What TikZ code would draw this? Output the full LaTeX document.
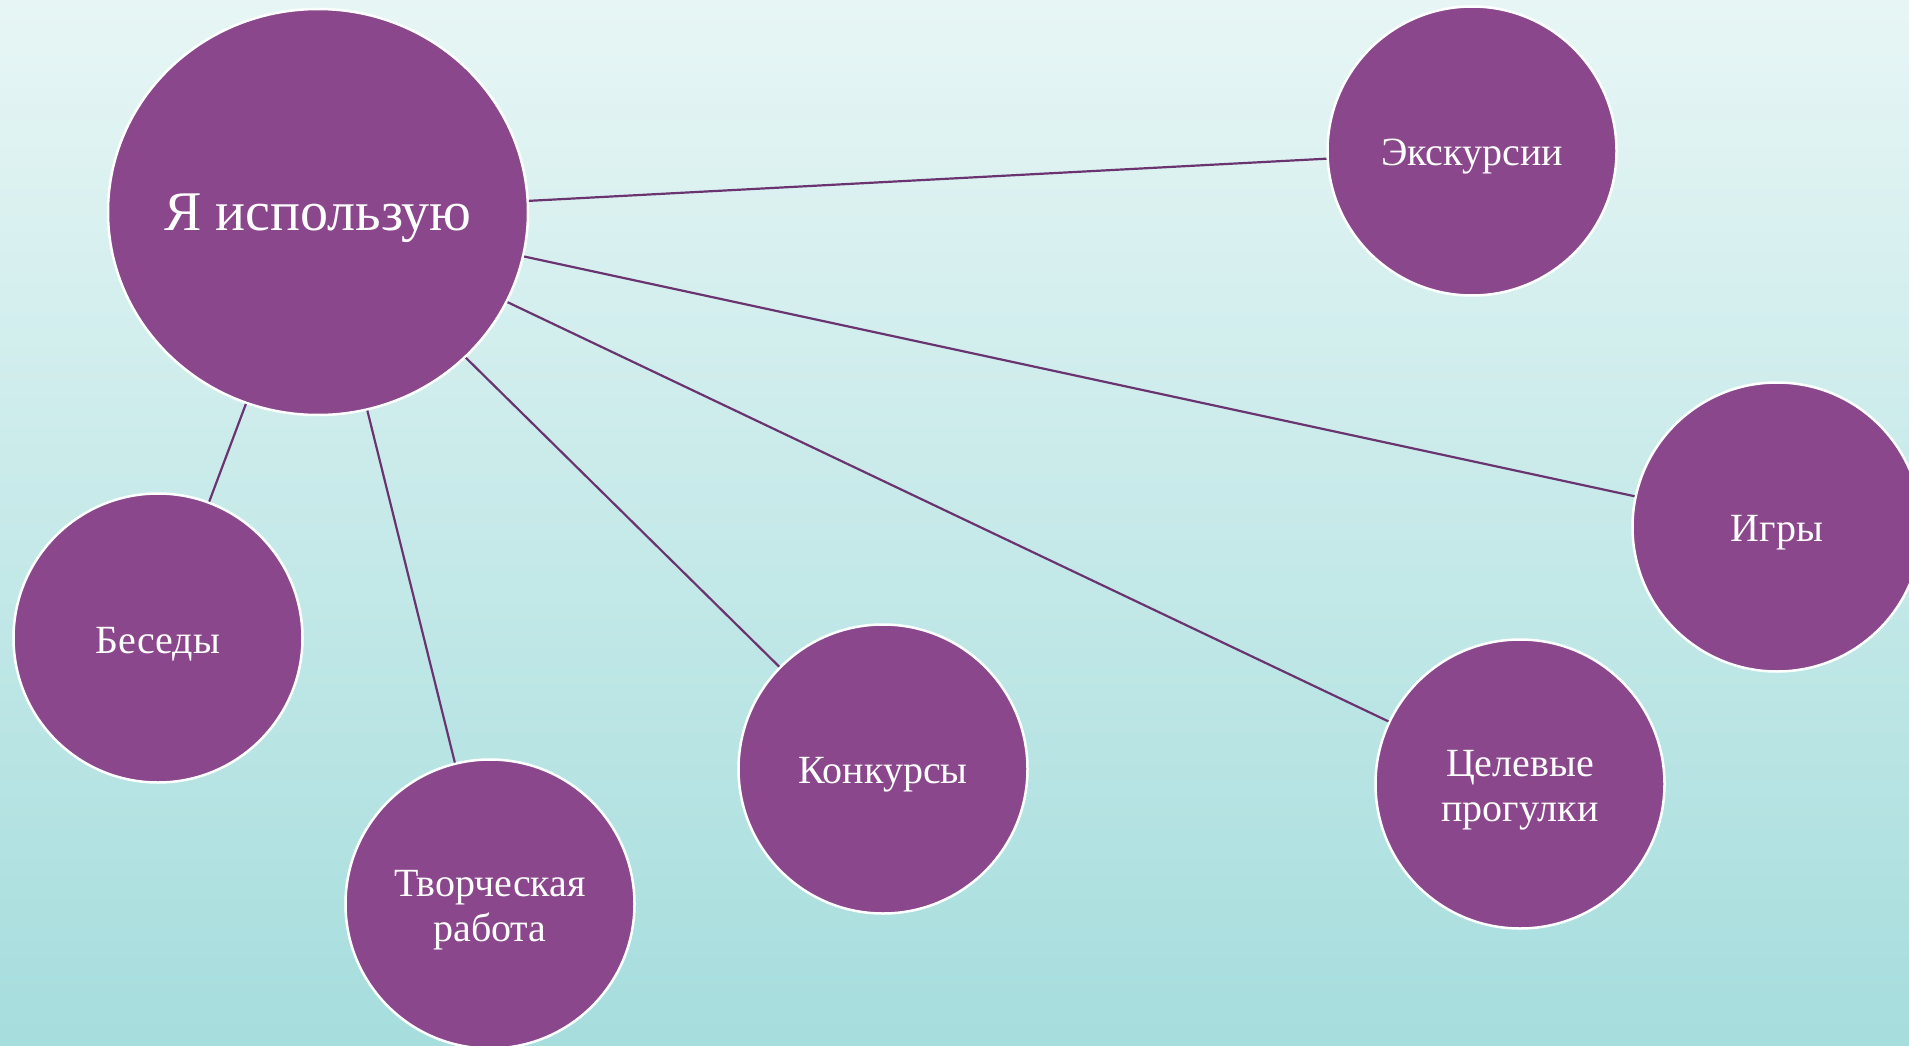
\documentclass[tikz,border=0pt]{standalone}
\usepackage{fontspec}
\setmainfont{Liberation Serif}
\usetikzlibrary{shapes.geometric}
\definecolor{bgtop}{RGB}{231,246,245}
\definecolor{bgbot}{RGB}{166,221,221}
\definecolor{bubble}{RGB}{138,71,140}
\definecolor{link}{RGB}{106,52,112}
\tikzset{
  bubble/.style={circle, fill=bubble, draw=white, line width=2.5pt, minimum size=289pt, inner sep=0pt},
  mainbubble/.style={ellipse, fill=bubble, draw=white, line width=2.5pt, minimum width=420pt, minimum height=406pt, inner sep=0pt},
  bubbletext/.style={text=white, align=center, font=\fontsize{40}{45}\selectfont, yshift=-6pt},
  maintext/.style={text=white, font=\fontsize{56}{60}\selectfont, yshift=-6pt},
  linkline/.style={draw=link, line width=2.2pt}
}
\begin{document}
\begin{tikzpicture}[x=1pt,y=-1pt]
\useasboundingbox (0,0) rectangle (1909,1046);
\shade[top color=bgtop, bottom color=bgbot] (0,0) rectangle (1909,1046);
\node[mainbubble] (main) at (318,212) {};
\node[bubble] (exk) at (1472,151) {};
\node[bubble] (igry) at (1777,527) {};
\node[bubble] (bes) at (158,638) {};
\node[bubble] (tvor) at (490,904) {};
\node[bubble] (konk) at (883,769) {};
\node[bubble] (cel) at (1520,784) {};
\node[maintext] (mainT) at (main.center) {Я использую};
\node[bubbletext] (exkT) at (exk.center) {Экскурсии};
\node[bubbletext] (igryT) at (igry.center) {Игры};
\node[bubbletext] (besT) at (bes.center) {Беседы};
\node[bubbletext] (tvorT) at (tvor.center) {Творческая\\работа};
\node[bubbletext] (konkT) at (konk.center) {Конкурсы};
\node[bubbletext] (celT) at (cel.center) {Целевые\\прогулки};
\draw[linkline] (main) -- (exk);
\draw[linkline] (main) -- (igry);
\draw[linkline] (main) -- (cel);
\draw[linkline] (main) -- (konk);
\draw[linkline] (main) -- (tvor);
\draw[linkline] (main) -- (bes);
\end{tikzpicture}
\end{document}
